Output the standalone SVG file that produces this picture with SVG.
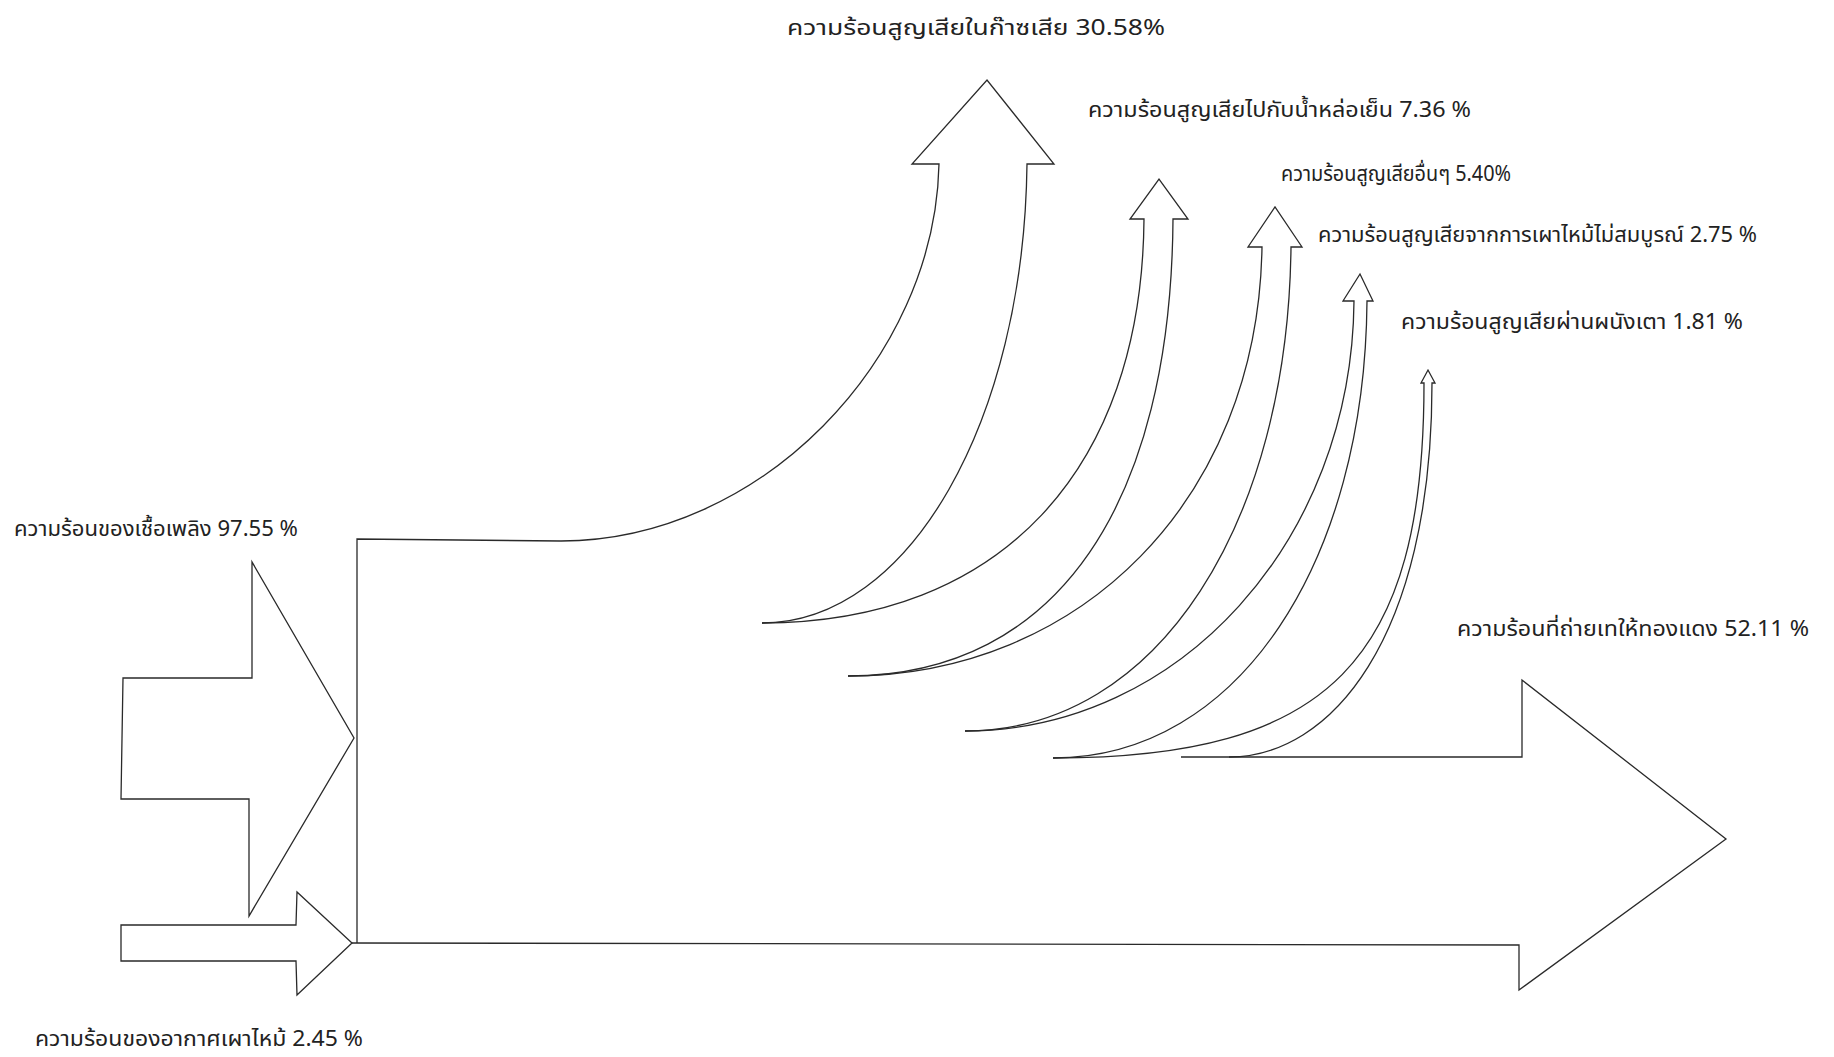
<svg xmlns="http://www.w3.org/2000/svg" width="1834" height="1057" viewBox="0 0 1834 1057">
<style>
.s{fill:none;stroke:#2a2a2a;stroke-width:1.3;stroke-linejoin:miter}
.a{fill:#fff;stroke:#2a2a2a;stroke-width:1.3}
.t{font-family:"Noto Sans Thai","Liberation Sans","Noto Sans",sans-serif;font-size:21px;fill:#222}
</style>
<rect width="1834" height="1057" fill="#fff"/>
<g id="connectors">
<path class="s" d="M357,943 L357,539 L561,541"/>
</g>
<g id="fuel">
<polygon class="a" points="123,678 252,678 252,562 354,738 249,916 249,799 121,799"/>
<text class="t" x="14" y="536" textLength="284" lengthAdjust="spacingAndGlyphs">ความร้อนของเชื้อเพลิง 97.55 %</text>
</g>
<g id="air">
<polygon class="a" points="121,925 296,925 297,892 352,943 297,995 296,961 121,961"/>
<text class="t" x="35" y="1046" textLength="328" lengthAdjust="spacingAndGlyphs">ความร้อนของอากาศเผาไหม้ 2.45 %</text>
</g>
<g id="gas">
<path class="s" d="M561,541 C760,541 935,360 939,164 L912,164 L987,80 L1054,164 L1027,164 C1024,420 910,623 762,623"/>
<text class="t" x="787" y="35" font-size="23" fill="#333" textLength="378" lengthAdjust="spacingAndGlyphs">ความร้อนสูญเสียในก๊าซเสีย 30.58%</text>
</g>
<g id="cooling">
<path class="s" d="M762,623 C1000,623 1142,470 1144,219 L1130,219 L1159,179 L1188,219 L1173,219 C1171,500 1060,676 848,676"/>
<text class="t" x="1088" y="117" textLength="383" lengthAdjust="spacingAndGlyphs">ความร้อนสูญเสียไปกับน้ำหล่อเย็น 7.36 %</text>
</g>
<g id="other">
<path class="s" d="M848,676 C1080,676 1258,500 1262,247 L1248,247 L1275,207 L1302,247 L1291,247 C1288,520 1160,731 965,731"/>
<text class="t" x="1281" y="181" textLength="230" lengthAdjust="spacingAndGlyphs">ความร้อนสูญเสียอื่นๆ 5.40%</text>
</g>
<g id="incomplete">
<path class="s" d="M965,731 C1180,731 1352,540 1354,301 L1343,301 L1360,274 L1373,301 L1367,301 C1365,560 1240,758 1053,758"/>
<text class="t" x="1318" y="242" textLength="439" lengthAdjust="spacingAndGlyphs">ความร้อนสูญเสียจากการเผาไหม้ไม่สมบูรณ์ 2.75 %</text>
</g>
<g id="wall">
<path class="s" d="M1053,758 C1330,758 1424,660 1424,383 L1421,383 L1428,370 L1435,383 L1432,383 C1432,640 1330,757 1229,757"/>
<text class="t" x="1401" y="329" textLength="342" lengthAdjust="spacingAndGlyphs">ความร้อนสูญเสียผ่านผนังเตา 1.81 %</text>
</g>
<g id="copper">
<path class="s" d="M1181,757 L1522,757 L1522,680 L1726,839 L1519,990 L1519,945 L352,943"/>
<text class="t" x="1457" y="636" textLength="352" lengthAdjust="spacingAndGlyphs">ความร้อนที่ถ่ายเทให้ทองแดง 52.11 %</text>
</g>
</svg>
